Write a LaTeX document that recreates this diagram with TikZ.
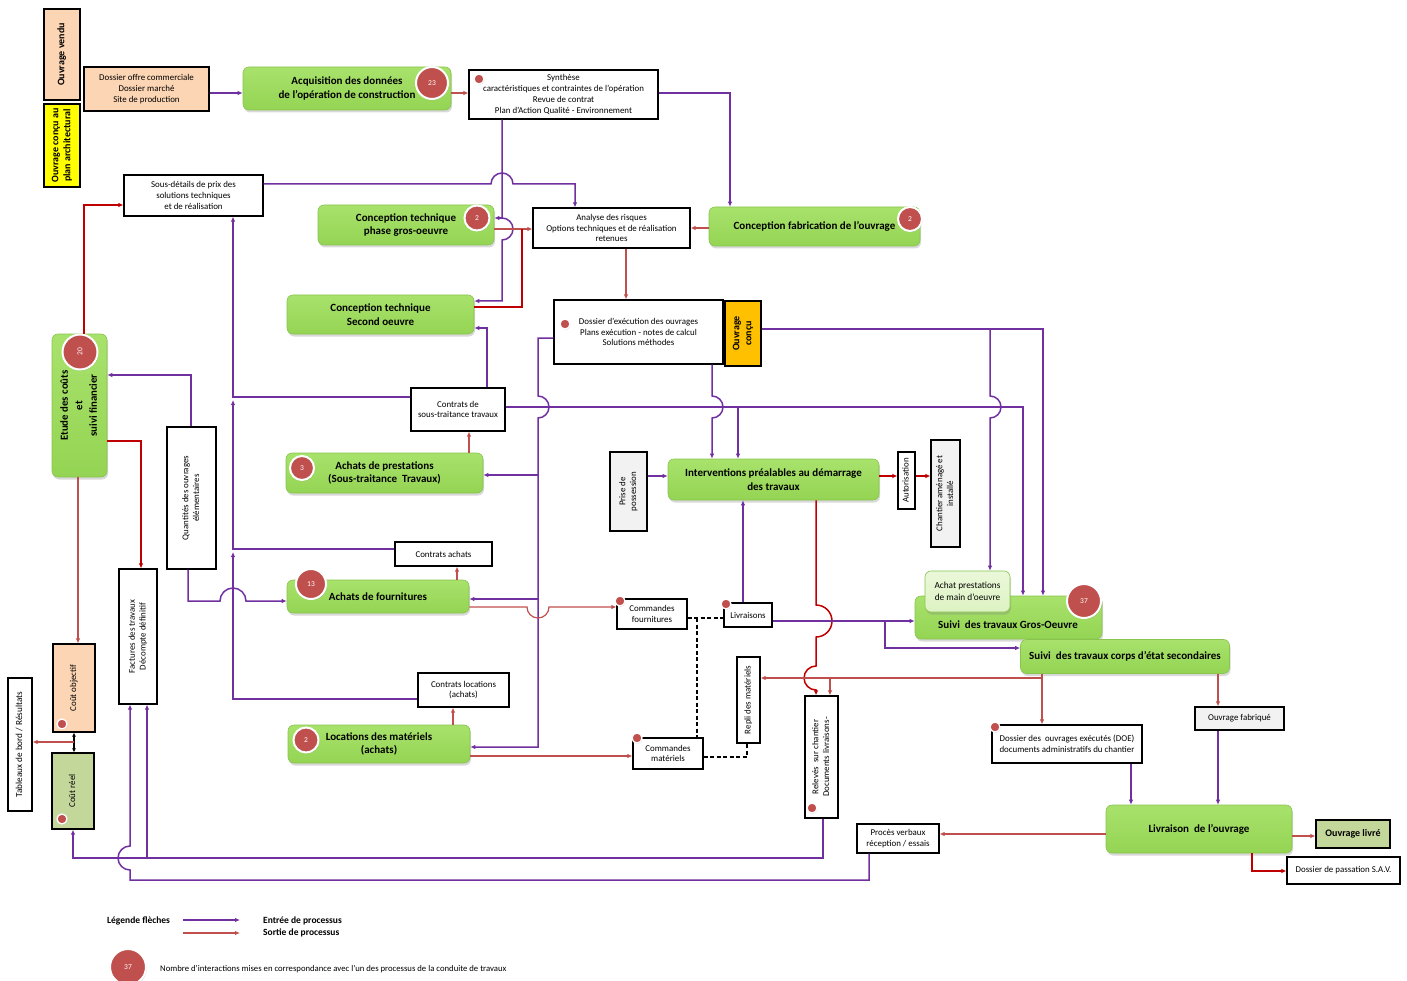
\documentclass[tikz,border=0pt]{standalone}
\usepackage{fontspec}
\setmainfont{Carlito}
\usepackage{graphicx}
\usetikzlibrary{arrows.meta,shadows}
\definecolor{Purple}{HTML}{7030A0}
\definecolor{OutRed}{HTML}{C0504D}
\definecolor{DeepRed}{HTML}{C00000}
\definecolor{BadgeRed}{HTML}{C0504D}
\definecolor{ProcGreen}{HTML}{94D453}
\definecolor{ProcTop}{HTML}{A8E26C}
\definecolor{ProcEdge}{HTML}{88C44E}
\definecolor{PaleGreen}{HTML}{DDF3C2}
\definecolor{Peach}{HTML}{FCD5B4}
\definecolor{SignYellow}{HTML}{FFFF00}
\definecolor{Amber}{HTML}{FFC000}
\definecolor{LightGray}{HTML}{F2F2F2}
\definecolor{Olive}{HTML}{C4D79B}
\newcommand{\vtxt}[1]{\rotatebox{90}{\begin{tabular}{@{}c@{}}#1\end{tabular}}}

\begin{document}
\begin{tikzpicture}[x=1pt,y=-1pt,
  boxplain/.style={draw=black,line width=1.2pt,fill=white,align=center,inner sep=1pt,font=\fontsize{8.9}{10.8}\selectfont},
  boxpeach/.style={boxplain,fill=Peach},
  boxgray/.style={boxplain,fill=LightGray},
  boxolive/.style={boxplain,fill=Olive},
  boxbold/.style={font=\fontsize{10}{11.8}\selectfont\bfseries},
  procgreen/.style={rounded corners=6pt,draw=ProcEdge,line width=0.6pt,top color=ProcTop,bottom color=ProcGreen,align=center,inner sep=1pt,font=\fontsize{11}{13.4}\selectfont\bfseries,drop shadow={shadow xshift=1pt,shadow yshift=-2.5pt,opacity=0.3}},
  procpale/.style={procgreen,top color=PaleGreen!60!white,bottom color=PaleGreen,font=\fontsize{9.3}{12}\selectfont},
  badge/.style={circle,fill=BadgeRed,draw=white,line width=2pt,text=white,inner sep=0pt,font=\fontsize{7.5}{8}\selectfont,drop shadow={shadow xshift=0.8pt,shadow yshift=-1.2pt,opacity=0.35}},
  dot/.style={circle,fill=BadgeRed,draw=white,line width=1.3pt,minimum size=10pt,inner sep=0pt,drop shadow={shadow xshift=0.5pt,shadow yshift=-0.8pt,opacity=0.35}},
  inarrow/.style={-{Latex[length=5pt,width=4.5pt]},line width=1.5pt,draw=Purple},
  outarrow/.style={-{Latex[length=5pt,width=4.5pt]},line width=1.2pt,draw=OutRed},
  outdeep/.style={-{Latex[length=5pt,width=4.5pt]},line width=1.5pt,draw=DeepRed},
  dblarrow/.style={{Latex[length=4pt,width=4pt]}-{Latex[length=4pt,width=4pt]},line width=1.2pt,draw=black},
  dashlink/.style={dash pattern=on 4pt off 2.5pt,line width=1.3pt,draw=black},
  legtext/.style={anchor=west,inner sep=0pt,font=\fontsize{9.5}{11}\selectfont\bfseries}
]
\useasboundingbox (0,0) rectangle (1407,981);

% upstream documents
\node[boxpeach,boxbold,minimum width=36pt,minimum height=91pt] (vendu) at (62,54.5) {\vtxt{Ouvrage vendu}};
\node[boxplain,boxbold,fill=SignYellow,minimum width=36pt,minimum height=83pt] (archi) at (62,145.5) {\vtxt{Ouvrage conçu au\\plan architectural}};
\node[boxpeach,minimum width=125pt,minimum height=44pt] (offre) at (146.5,89) {Dossier offre commerciale\\Dossier marché\\Site de production};
\node[procgreen,minimum width=208pt,minimum height=43pt] (acq) at (347,88.5) {Acquisition des données\\de l'opération de construction};
\node[badge,minimum size=32pt] (bacq) at (432,83) {23};
\node[boxplain,minimum width=189pt,minimum height=49pt] (synth) at (563.5,94.5) {Synthèse\\caractéristiques et contraintes de l'opération\\Revue de contrat\\Plan d'Action Qualité - Environnement};
\node[dot] (dsynth) at (479,79) {};

% design
\node[boxplain,minimum width=139pt,minimum height=41pt] (sousdet) at (193.5,195.5) {Sous-détails de prix des\\solutions techniques\\et de réalisation};
\node[procgreen,minimum width=176pt,minimum height=40pt] (congo) at (406,225) {Conception technique\\phase gros-oeuvre};
\node[badge,minimum size=25pt] (bcongo) at (477,218) {2};
\node[boxplain,minimum width=157pt,minimum height=40pt] (risques) at (611.5,228) {Analyse des risques\\Options techniques et de réalisation\\retenues};
\node[procgreen,minimum width=211pt,minimum height=39pt] (confab) at (814.5,226.5) {Conception fabrication de l'ouvrage};
\node[badge,minimum size=24pt] (bconfab) at (910,219) {2};
\node[procgreen,minimum width=187pt,minimum height=39pt] (conso) at (380.5,314.5) {Conception technique\\Second oeuvre};
\node[boxplain,minimum width=169pt,minimum height=64pt] (dexec) at (638.5,332) {Dossier d'exécution des ouvrages\\Plans exécution - notes de calcul\\Solutions méthodes};
\node[dot] (ddexec) at (565,324) {};
\node[boxplain,boxbold,fill=Amber,minimum width=36pt,minimum height=65pt] (oconcu) at (743,333.5) {\vtxt{Ouvrage\\conçu}};

% costs and purchases
\node[procgreen,font=\fontsize{10.8}{14.5}\selectfont\bfseries,minimum width=55pt,minimum height=143pt] (etude) at (79.5,405.5) {\vtxt{Etude des coûts\\et\\suivi financier}};
\node[badge,minimum size=35pt] (betude) at (80,352) {\rotatebox{90}{20}};
\node[boxplain,minimum width=49pt,minimum height=142pt] (quant) at (191.5,498) {\vtxt{Quantités des ouvrages\\élémentaires}};
\node[boxplain,minimum width=94pt,minimum height=43pt] (ctrst) at (458,409.5) {Contrats de\\sous-traitance travaux};
\node[procgreen,minimum width=197pt,minimum height=40pt] (achprest) at (384.5,473) {Achats de prestations\\(Sous-traitance\ \ Travaux)};
\node[badge,minimum size=24pt] (bachprest) at (302,468) {3};
\node[boxgray,minimum width=37pt,minimum height=79pt] (prise) at (628.5,491.5) {\vtxt{Prise de\\possession}};
\node[procgreen,minimum width=211pt,minimum height=41pt] (interv) at (773.5,479.5) {Interventions préalables au démarrage\\des travaux};
\node[boxplain,minimum width=17pt,minimum height=57pt] (autor) at (906.5,480.5) {\vtxt{Autorisation}};
\node[boxgray,minimum width=29pt,minimum height=107pt] (chantier) at (945.5,493.5) {\vtxt{Chantier aménagé et\\installé}};
\node[boxplain,minimum width=97pt,minimum height=24pt] (ctrach) at (443.5,554) {Contrats achats};
\node[procgreen,minimum width=182pt,minimum height=33pt] (achfour) at (378,596.5) {Achats de fournitures};
\node[badge,minimum size=30pt] (bachfour) at (311,584) {13};
\node[boxplain,minimum width=38pt,minimum height=135pt] (factures) at (138,636.5) {\vtxt{Factures des travaux\\Décompte définitif}};
\node[boxplain,minimum width=70pt,minimum height=30pt] (cmdfour) at (652,614) {Commandes\\fournitures};
\node[dot] (dcmdfour) at (620,601) {};
\node[boxplain,minimum width=48pt,minimum height=24pt] (livr) at (748,615) {Livraisons};
\node[dot] (dlivr) at (726,604) {};

% site follow-up
\node[procgreen,minimum width=187pt,minimum height=43pt] (suivigo) at (1008.5,617.5) {};
\node[procpale,minimum width=85pt,minimum height=41pt] (achmo) at (967.5,591.5) {Achat prestations\\de main d'oeuvre};
\node[font=\fontsize{11}{13.4}\selectfont\bfseries] (suivigotxt) at (1008,625) {Suivi\ \ des travaux Gros-Oeuvre};
\node[badge,minimum size=34pt] (bsuivigo) at (1084,601) {37};
\node[procgreen,minimum width=209pt,minimum height=34pt] (suivices) at (1125,656.5) {Suivi\ \ des travaux corps d'état secondaires};

\node[boxpeach,minimum width=42pt,minimum height=88pt] (cobj) at (74,688) {\vtxt{Coût objectif}};
\node[dot] (dcobj) at (62,724) {};
\node[boxplain,font=\fontsize{9.2}{10}\selectfont,minimum width=24pt,minimum height=133pt] (tabl) at (20,744.5) {\vtxt{Tableaux de bord / Résultats}};
\node[boxolive,minimum width=42pt,minimum height=76pt] (creel) at (73,791) {\vtxt{Coût réel}};
\node[dot] (dcreel) at (62,819) {};
\node[boxplain,minimum width=91pt,minimum height=34pt] (ctrloc) at (463.5,690) {Contrats locations\\(achats)};
\node[procgreen,minimum width=182pt,minimum height=38pt] (locmat) at (379,744) {Locations des matériels\\(achats)};
\node[badge,minimum size=25pt] (blocmat) at (306,740) {2};
\node[boxplain,minimum width=70pt,minimum height=31pt] (cmdmat) at (668,753.5) {Commandes\\matériels};
\node[dot] (dcmdmat) at (637,738) {};
\node[boxplain,minimum width=23pt,minimum height=86pt] (repli) at (748.5,700) {\vtxt{Repli des matériels}};
\node[boxplain,minimum width=33pt,minimum height=122pt] (releves) at (821.5,757) {\vtxt{Relevés\ \ sur chantier\\Documents livraisons-}};
\node[dot] (dreleves) at (812,808) {};
\node[boxgray,minimum width=89pt,minimum height=23pt] (ofab) at (1239.5,718.5) {Ouvrage fabriqué};
\node[boxplain,minimum width=150pt,minimum height=38pt] (doe) at (1067,744) {Dossier des\ \ ouvrages exécutés (DOE)\\documents administratifs du chantier};
\node[dot] (ddoe) at (995,727) {};
\node[procgreen,minimum width=186pt,minimum height=48pt] (livraison) at (1199,829) {Livraison\ \ de l'ouvrage};
\node[boxplain,minimum width=82pt,minimum height=29pt] (pv) at (898,838.5) {Procès verbaux\\réception / essais};
\node[boxolive,boxbold,minimum width=74pt,minimum height=28pt] (olivre) at (1353,834) {Ouvrage livré};
\node[boxplain,minimum width=113pt,minimum height=27pt] (sav) at (1343.5,870.5) {Dossier de passation S.A.V.};

% branch points
\coordinate (jgo) at (502,218);
\coordinate (jso) at (522,229);
\coordinate (kloc) at (233,552);
\coordinate (kach) at (233,400);
\coordinate (jprest) at (538,475);
\coordinate (jfour) at (538,599);
\coordinate (jint) at (738,407);
\coordinate (jmo) at (990,329);
\coordinate (jces) at (885,621);
\coordinate (jrepli) at (1042,678);
\coordinate (jrel) at (830,678);
\coordinate (jdash) at (697,618);
\coordinate (jfact) at (147,858);
\coordinate (jtab) at (74,742);

% connectors top
\draw[inarrow] (offre.east |- 0,93) -- (acq.west |- 0,93);
\draw[outarrow] (acq.east |- 0,93) -- (synth.west |- 0,93);
\draw[inarrow] (synth.east |- 0,93) -| (confab.north -| 730,0);
\draw[inarrow] (synth.south -| 502,0) -- (jgo) arc[start angle=-90,end angle=90,radius=11] -- (502,301) -- (conso.east |- 0,301);
\draw[inarrow] (jgo) -- (congo.east |- 0,218);
\draw[outarrow] (congo.east |- 0,229) -- (risques.west |- 0,229);
\draw[outdeep,-] (conso.east |- 0,307) -| (jso);
\draw[outarrow] (confab.west |- 0,228) -- (risques.east |- 0,228);
\draw[outarrow] (risques.south -| 626,0) -- (dexec.north -| 626,0);
\draw[inarrow] (sousdet.east |- 0,184) -- (491,184) arc[start angle=180,end angle=360,radius=11] -| (risques.north -| 575,0);

% contracts column
\draw[inarrow] (ctrloc.west |- 0,699) -| (kloc);
\draw[inarrow] (ctrach.west |- 0,549) -| (kach);
\draw[inarrow] (ctrst.west |- 0,397) -| (sousdet.south -| 233,0);
\draw[inarrow] (ctrst.north -| 487,0) |- (conso.east |- 0,328);
\draw[outarrow] (achprest.north -| 469,0) -- (ctrst.south -| 469,0);
\draw[outarrow] (achfour.north -| 457,0) -- (ctrach.south -| 457,0);
\draw[outarrow] (locmat.north -| 453,0) -- (ctrloc.south -| 453,0);
\draw[inarrow] (ctrst.east |- 0,407) -| (suivigo.north -| 1023,0);
\draw[inarrow] (jint) -- (interv.north -| 738,0);

% execution file to purchases
\draw[inarrow] (dexec.west |- 0,338) -- (538,338) -- (538,396) arc[start angle=-90,end angle=90,radius=11] -- (538,747) -- (locmat.east |- 0,747);
\draw[inarrow] (jprest) -- (achprest.east |- 0,475);
\draw[inarrow] (jfour) -- (achfour.east |- 0,599);
\draw[outarrow] (achfour.east |- 0,607) -- (527,607) arc[start angle=180,end angle=0,radius=11] -- (cmdfour.west |- 0,607);
\draw[outarrow] (locmat.east |- 0,756) -- (cmdmat.west |- 0,756);
\draw[inarrow] (dexec.south -| 712,0) -- (712,396) arc[start angle=-90,end angle=90,radius=11] -- (interv.north -| 712,0);
\draw[inarrow] (oconcu.east |- 0,329) -| (suivigo.north -| 1043,0);
\draw[inarrow] (jmo) -- (990,396) arc[start angle=-90,end angle=90,radius=11] -- (achmo.north -| 990,0);

% site start
\draw[inarrow] (prise.east |- 0,476) -- (interv.west |- 0,476);
\draw[outdeep] (interv.east |- 0,476) -- (autor.west |- 0,476);
\draw[outdeep] (autor.east |- 0,476) -- (chantier.west |- 0,476);
\draw[inarrow] (livr.north -| 743,0) -- (interv.south -| 743,0);
\draw[outdeep] (interv.south -| 816,0) -- (816,605) arc[start angle=-90,end angle=90,radius=16] -- (816,666) arc[start angle=-90,end angle=-270,radius=12] -- (releves.north -| 816,0);
\draw[inarrow] (livr.east |- 0,621) -- (suivigo.west |- 0,621);
\draw[inarrow] (jces) |- (suivices.west |- 0,648);
\draw[dashlink] (cmdfour.east |- 0,618) -- (livr.west |- 0,618);
\draw[dashlink] (jdash) -- (cmdmat.north -| 697,0);
\draw[dashlink] (cmdmat.east |- 0,757) -| (repli.south -| 747,0);

% follow-up outputs
\draw[outarrow] (suivices.south -| 1042,0) -- (doe.north -| 1042,0);
\draw[outarrow] (jrepli) -- (repli.east |- 0,678);
\draw[outarrow] (jrel) -- (releves.north -| 830,0);
\draw[outarrow] (suivices.south -| 1218,0) -- (ofab.north -| 1218,0);
\draw[inarrow] (ofab.south -| 1218,0) -- (livraison.north -| 1218,0);
\draw[inarrow] (doe.south -| 1131,0) -- (livraison.north -| 1131,0);
\draw[outarrow] (livraison.west |- 0,834) -- (pv.east |- 0,834);
\draw[outarrow] (livraison.east |- 0,836) -- (olivre.west |- 0,836);
\draw[outdeep] (livraison.south -| 1252,0) |- (sav.west |- 0,871);

% back to costs
\draw[inarrow] (pv.south -| 869,0) |- (130,880) -- (130,870) arc[start angle=90,end angle=270,radius=12] -- (factures.south -| 130,0);
\draw[inarrow] (releves.south -| 823,0) -- (823,858) -| (creel.south);
\draw[inarrow] (jfact) -- (factures.south -| 147,0);
\draw[outdeep] (etude.north -| 84,0) |- (sousdet.west |- 0,205);
\draw[inarrow] (quant.north -| 191,0) |- (etude.east |- 0,375);
\draw[outdeep] (etude.east |- 0,441) -| (factures.north -| 141,0);
\draw[outarrow] (etude.south -| 78,0) -- (cobj.north -| 78,0);
\draw[inarrow] (quant.south -| 188,0) -- (188,601) -- (220,601) arc[start angle=180,end angle=360,radius=13] -- (achfour.west |- 0,601);
\draw[dblarrow] (cobj.south) -- (cobj.south |- creel.north);
\draw[outarrow] (jtab) -- (tabl.east |- 0,742);

% legend
\node[legtext] (legtitle) at (107,921) {Légende flèches};
\coordinate (legin0) at (183,920);
\coordinate (legin1) at (240,920);
\coordinate (legout0) at (183,933);
\coordinate (legout1) at (240,933);
\draw[inarrow] (legin0) -- (legin1);
\draw[outarrow] (legout0) -- (legout1);
\node[legtext] (legin) at (263,921) {Entrée de processus};
\node[legtext] (legout) at (263,933) {Sortie de processus};
\node[badge,minimum size=36pt] (legbadge) at (128,967) {37};
\node[anchor=west,inner sep=0pt,font=\fontsize{8.7}{10}\selectfont] (legnote) at (160,969) {Nombre d'interactions mises en correspondance avec l'un des processus de la conduite de travaux};
\end{tikzpicture}
\end{document}
